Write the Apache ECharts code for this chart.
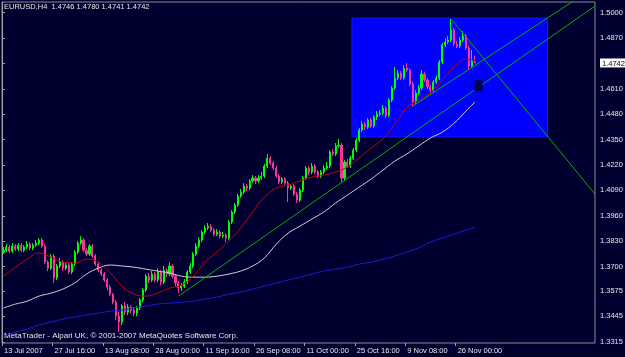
<!DOCTYPE html>
<html><head><meta charset="utf-8">
<script src="https://cdn.jsdelivr.net/npm/echarts@6/dist/echarts.min.js"></script>
<style>html,body{margin:0;padding:0;background:#000030;}#c{width:625px;height:357px;}</style>
</head><body><div id="c"></div>
<script>
// ---------- data ----------
const symbolName = 'EURUSD,H4';
const watermark = 'MetaTrader - Alpari UK, \u00a9 2001-2007 MetaQuotes Software Corp.';
const barSlots = 200; // visible bar slots (price bars + empty future area)
const tickBars = [0, 17, 34, 51, 68, 85, 102, 119, 136, 153];
const tickLabels = ['13 Jul 2007', '27 Jul 16:00', '13 Aug 08:00', '28 Aug 00:00', '11 Sep 16:00',
  '26 Sep 08:00', '11 Oct 00:00', '25 Oct 16:00', '9 Nov 08:00', '26 Nov 00:00'];
const priceTicks = [1.3315, 1.3445, 1.3575, 1.3700, 1.3830, 1.3960, 1.4090, 1.4220, 1.4350,
  1.4480, 1.4610, 1.4742, 1.4870, 1.5000];
const lastPrice = 1.4742;
// [open, close, low, high]
const candles = [
[1.3774,1.3784,1.3764,1.3800],[1.3784,1.3800,1.3774,1.3815],[1.3800,1.3779,1.3769,1.3810],[1.3779,1.3805,1.3769,1.3820],
[1.3805,1.3790,1.3779,1.3815],[1.3790,1.3810,1.3779,1.3820],[1.3810,1.3784,1.3774,1.3820],[1.3784,1.3800,1.3774,1.3810],
[1.3800,1.3815,1.3790,1.3831],[1.3815,1.3795,1.3784,1.3825],[1.3795,1.3810,1.3784,1.3820],[1.3810,1.3820,1.3800,1.3836],
[1.3820,1.3836,1.3810,1.3846],[1.3836,1.3805,1.3795,1.3846],[1.3805,1.3723,1.3713,1.3815],[1.3723,1.3692,1.3677,1.3733],
[1.3692,1.3754,1.3682,1.3764],[1.3754,1.3641,1.3616,1.3764],[1.3641,1.3703,1.3631,1.3713],[1.3703,1.3723,1.3692,1.3744],
[1.3723,1.3692,1.3677,1.3733],[1.3692,1.3708,1.3682,1.3723],[1.3708,1.3672,1.3662,1.3718],[1.3672,1.3713,1.3662,1.3723],
[1.3713,1.3774,1.3703,1.3784],[1.3774,1.3820,1.3764,1.3831],[1.3820,1.3836,1.3810,1.3856],[1.3836,1.3784,1.3774,1.3846],
[1.3784,1.3764,1.3754,1.3795],[1.3764,1.3805,1.3754,1.3815],[1.3805,1.3754,1.3744,1.3815],[1.3754,1.3713,1.3703,1.3764],
[1.3713,1.3682,1.3672,1.3723],[1.3682,1.3662,1.3651,1.3692],[1.3662,1.3631,1.3621,1.3672],[1.3631,1.3595,1.3580,1.3641],
[1.3595,1.3559,1.3549,1.3605],[1.3559,1.3518,1.3508,1.3564],[1.3518,1.3447,1.3426,1.3529],[1.3447,1.3416,1.3365,1.3467],
[1.3416,1.3498,1.3401,1.3508],[1.3498,1.3467,1.3452,1.3518],[1.3467,1.3493,1.3452,1.3508],[1.3493,1.3477,1.3462,1.3503],
[1.3477,1.3462,1.3447,1.3493],[1.3462,1.3488,1.3447,1.3498],[1.3488,1.3529,1.3477,1.3539],[1.3529,1.3580,1.3518,1.3590],
[1.3580,1.3651,1.3570,1.3662],[1.3651,1.3631,1.3616,1.3667],[1.3631,1.3662,1.3621,1.3677],[1.3662,1.3631,1.3621,1.3672],
[1.3631,1.3672,1.3621,1.3692],[1.3672,1.3621,1.3605,1.3682],[1.3621,1.3682,1.3610,1.3703],[1.3682,1.3662,1.3646,1.3692],
[1.3662,1.3703,1.3651,1.3723],[1.3703,1.3651,1.3641,1.3713],[1.3651,1.3616,1.3600,1.3662],[1.3616,1.3590,1.3564,1.3626],
[1.3590,1.3600,1.3575,1.3616],[1.3600,1.3621,1.3590,1.3636],[1.3621,1.3672,1.3610,1.3682],[1.3672,1.3703,1.3662,1.3718],
[1.3703,1.3764,1.3692,1.3774],[1.3764,1.3805,1.3754,1.3820],[1.3805,1.3836,1.3795,1.3851],[1.3836,1.3877,1.3825,1.3887],
[1.3877,1.3897,1.3866,1.3912],[1.3897,1.3907,1.3887,1.3923],[1.3907,1.3887,1.3877,1.3918],[1.3887,1.3866,1.3856,1.3897],
[1.3866,1.3877,1.3856,1.3892],[1.3877,1.3856,1.3846,1.3887],[1.3856,1.3861,1.3846,1.3877],[1.3861,1.3846,1.3825,1.3871],
[1.3846,1.3928,1.3836,1.3938],[1.3928,1.3979,1.3918,1.3989],[1.3979,1.4015,1.3969,1.4025],[1.4015,1.4061,1.4005,1.4071],
[1.4061,1.4081,1.4051,1.4097],[1.4081,1.4112,1.4071,1.4127],[1.4112,1.4102,1.4086,1.4122],[1.4102,1.4138,1.4092,1.4148],
[1.4138,1.4153,1.4127,1.4168],[1.4153,1.4138,1.4122,1.4163],[1.4138,1.4153,1.4127,1.4168],[1.4153,1.4163,1.4143,1.4184],
[1.4163,1.4214,1.4153,1.4225],[1.4214,1.4255,1.4204,1.4276],[1.4255,1.4230,1.4220,1.4266],[1.4230,1.4204,1.4194,1.4240],
[1.4204,1.4163,1.4153,1.4214],[1.4163,1.4133,1.4122,1.4173],[1.4133,1.4148,1.4122,1.4158],[1.4148,1.4127,1.4117,1.4158],
[1.4127,1.4102,1.4030,1.4138],[1.4102,1.4112,1.4092,1.4122],[1.4112,1.4071,1.4061,1.4122],[1.4071,1.4040,1.4025,1.4081],
[1.4040,1.4092,1.4030,1.4102],[1.4092,1.4153,1.4081,1.4163],[1.4153,1.4204,1.4143,1.4214],[1.4204,1.4184,1.4168,1.4214],
[1.4184,1.4214,1.4173,1.4230],[1.4214,1.4184,1.4173,1.4225],[1.4184,1.4163,1.4153,1.4194],[1.4163,1.4184,1.4153,1.4194],
[1.4184,1.4204,1.4173,1.4220],[1.4204,1.4214,1.4194,1.4235],[1.4214,1.4286,1.4204,1.4296],[1.4286,1.4276,1.4266,1.4301],
[1.4276,1.4317,1.4266,1.4332],[1.4317,1.4322,1.4307,1.4353],[1.4322,1.4153,1.4127,1.4332],[1.4153,1.4235,1.4143,1.4245],
[1.4235,1.4214,1.4204,1.4250],[1.4214,1.4255,1.4204,1.4266],[1.4255,1.4296,1.4245,1.4307],[1.4296,1.4347,1.4286,1.4358],
[1.4347,1.4399,1.4337,1.4409],[1.4399,1.4429,1.4388,1.4445],[1.4429,1.4414,1.4399,1.4440],[1.4414,1.4450,1.4404,1.4460],
[1.4450,1.4419,1.4409,1.4460],[1.4419,1.4465,1.4409,1.4475],[1.4465,1.4481,1.4450,1.4496],[1.4481,1.4486,1.4470,1.4501],
[1.4486,1.4511,1.4475,1.4527],[1.4511,1.4475,1.4460,1.4521],[1.4475,1.4552,1.4465,1.4562],[1.4552,1.4614,1.4542,1.4624],
[1.4614,1.4665,1.4603,1.4721],[1.4665,1.4690,1.4655,1.4706],[1.4690,1.4665,1.4655,1.4701],[1.4665,1.4716,1.4655,1.4731],
[1.4716,1.4706,1.4695,1.4742],[1.4706,1.4634,1.4624,1.4716],[1.4634,1.4542,1.4521,1.4644],[1.4542,1.4588,1.4532,1.4603],
[1.4588,1.4614,1.4578,1.4629],[1.4614,1.4685,1.4603,1.4706],[1.4685,1.4655,1.4644,1.4695],[1.4655,1.4619,1.4608,1.4665],
[1.4619,1.4603,1.4588,1.4629],[1.4603,1.4644,1.4593,1.4655],[1.4644,1.4665,1.4634,1.4680],[1.4665,1.4747,1.4655,1.4757],
[1.4747,1.4834,1.4736,1.4844],[1.4834,1.4849,1.4823,1.4870],[1.4849,1.4859,1.4839,1.4880],[1.4859,1.4910,1.4849,1.4967],
[1.4910,1.4839,1.4829,1.4921],[1.4839,1.4829,1.4818,1.4854],[1.4829,1.4859,1.4818,1.4875],[1.4859,1.4880,1.4849,1.4905],
[1.4880,1.4818,1.4808,1.4890],[1.4818,1.4726,1.4706,1.4829],[1.4726,1.4752,1.4716,1.4808],[1.4746,1.4742,1.4741,1.4780]
];
const maBars = [0,4,8,12,16,20,24,28,32,36,40,44,48,52,56,60,64,68,72,76,80,84,88,92,96,100,104,108,112,116,120,124,128,132,136,140,144,148,152,156,159];
const maRed = [1.3651,1.3697,1.3738,1.3769,1.3749,1.3723,1.3718,1.3738,1.3723,1.3667,1.3600,1.3559,1.3549,1.3564,1.3590,1.3605,1.3651,1.3723,1.3774,1.3831,1.3897,1.3979,1.4056,1.4102,1.4117,1.4138,1.4158,1.4168,1.4184,1.4209,1.4255,1.4307,1.4353,1.4429,1.4511,1.4552,1.4588,1.4655,1.4721,1.4762,1.4757];
const maWhite = [1.3488,1.3508,1.3523,1.3549,1.3564,1.3585,1.3616,1.3662,1.3692,1.3708,1.3703,1.3697,1.3687,1.3677,1.3667,1.3651,1.3646,1.3646,1.3651,1.3662,1.3677,1.3703,1.3744,1.3815,1.3871,1.3907,1.3943,1.3979,1.4025,1.4066,1.4107,1.4148,1.4194,1.4240,1.4276,1.4317,1.4358,1.4388,1.4434,1.4496,1.4542];
const maBlue = [1.3344,1.3365,1.3380,1.3401,1.3416,1.3431,1.3442,1.3452,1.3462,1.3472,1.3477,1.3488,1.3498,1.3508,1.3513,1.3518,1.3523,1.3534,1.3544,1.3559,1.3570,1.3585,1.3600,1.3616,1.3631,1.3646,1.3662,1.3677,1.3687,1.3697,1.3713,1.3723,1.3738,1.3754,1.3774,1.3795,1.3825,1.3846,1.3866,1.3887,1.3902];
// trend lines: [bar, price] end points
const trendA = [[59, 1.3549], [199.5, 1.5033]];
const trendB = [[138, 1.4521], [199.5, 1.5131]];
const trendC = [[151, 1.4967], [199.5, 1.4071]];
// rectangle object: bars from/to, price top/bottom
const boxBars = [118, 184];
const boxPrices = [1.4972, 1.4363];
const squareMark = [160.7, 1.4626];

// ---------- chart ----------
const FONT = 'Liberation Sans, Arial, sans-serif';
const last = candles[candles.length - 1];
const header = symbolName + '  ' + [last[0], last[3], last[2], last[1]].map(v => v.toFixed(4)).join(' ');
const slots = Array.from({length: barSlots}, (_, i) => String(i));
const at = (b) => b + 0.5;
const maData = (arr) => maBars.map((b, k) => [at(b), arr[k]]);
const lineData = (seg) => seg.map(p => [at(p[0]), p[1]]);
const trendStyle = {color: '#00b000', width: 1};

const chart = echarts.init(document.getElementById('c'), null, {renderer: 'canvas'});
chart.setOption({
  backgroundColor: '#000030',
  animation: false,
  grid: {left: 2, right: 30, top: 2, bottom: 14, show: true, borderColor: '#8c8c8c', borderWidth: 1,
    backgroundColor: 'transparent', containLabel: false, outerBoundsMode: 'none'},
  xAxis: [
    {type: 'category', data: slots, show: false, boundaryGap: true, position: 'bottom'},
    {type: 'value', min: 0, max: barSlots, position: 'bottom', splitLine: {show: false},
      axisLine: {show: false},
      axisTick: {show: true, customValues: tickBars, length: 3, lineStyle: {color: '#a0a0a0'}},
      axisLabel: {customValues: tickBars, formatter: (v) => tickLabels[tickBars.indexOf(Math.round(v))] || '',
        align: 'left', color: '#e6e6e6', fontSize: 7.5, fontFamily: FONT, margin: 4, padding: [0, 0, 0, 2]}}
  ],
  yAxis: {type: 'value', position: 'right', min: 1.3309, max: 1.5054, scale: true,
    splitLine: {show: false},
    axisLine: {show: true, lineStyle: {color: '#a0a0a0'}},
    axisTick: {show: true, customValues: priceTicks, length: 3, lineStyle: {color: '#a0a0a0'}},
    axisLabel: {customValues: priceTicks, color: '#e6e6e6', fontSize: 7.5, fontFamily: FONT, margin: 5,
      formatter: (v) => Math.abs(v - lastPrice) < 1e-7 ? '{cur|' + v.toFixed(4) + '}' : v.toFixed(4),
      rich: {cur: {backgroundColor: '#ffffff', color: '#000000', fontSize: 7.5, fontFamily: FONT, padding: [1, 2, 0, 2]}}}
  },
  graphic: [
    {type: 'text', left: 4, top: 3, style: {text: header, fill: '#e6e6e6', font: '7.5px ' + FONT}},
    {type: 'text', left: 4, top: 332, style: {text: watermark, fill: '#e6e6e6', font: '8px ' + FONT}}
  ],
  series: [
    {type: 'line', xAxisIndex: 1, data: [], z: 1, silent: true,
      markArea: {silent: true, itemStyle: {color: '#0000ff', borderColor: '#3030ff', borderWidth: 1, borderType: 'dotted'},
        data: [[{coord: [boxBars[0], boxPrices[0]]}, {coord: [boxBars[1], boxPrices[1]]}]]}},
    {type: 'candlestick', xAxisIndex: 0, data: candles, z: 2, barWidth: 1.6,
      itemStyle: {color: '#00ff00', color0: '#ff3399', borderColor: '#00ff00', borderColor0: '#ff3399', borderWidth: 1}},
    {type: 'line', xAxisIndex: 1, data: maData(maBlue), z: 3, showSymbol: false, smooth: 0.4, lineStyle: {color: '#1c1cd0', width: 1}},
    {type: 'line', xAxisIndex: 1, data: maData(maWhite), z: 3, showSymbol: false, smooth: 0.4, lineStyle: {color: '#d0d0d0', width: 1}},
    {type: 'line', xAxisIndex: 1, data: maData(maRed), z: 3, showSymbol: false, smooth: 0.4, lineStyle: {color: '#c80000', width: 1}},
    {type: 'line', xAxisIndex: 1, data: lineData(trendA), z: 4, showSymbol: false, lineStyle: trendStyle},
    {type: 'line', xAxisIndex: 1, data: lineData(trendB), z: 4, showSymbol: false, lineStyle: trendStyle},
    {type: 'line', xAxisIndex: 1, data: lineData(trendC), z: 4, showSymbol: false, lineStyle: trendStyle},
    {type: 'scatter', xAxisIndex: 1, data: [squareMark], z: 5, symbol: 'rect', symbolSize: [8, 11], itemStyle: {color: '#000030'}}
  ]
});
</script></body></html>
